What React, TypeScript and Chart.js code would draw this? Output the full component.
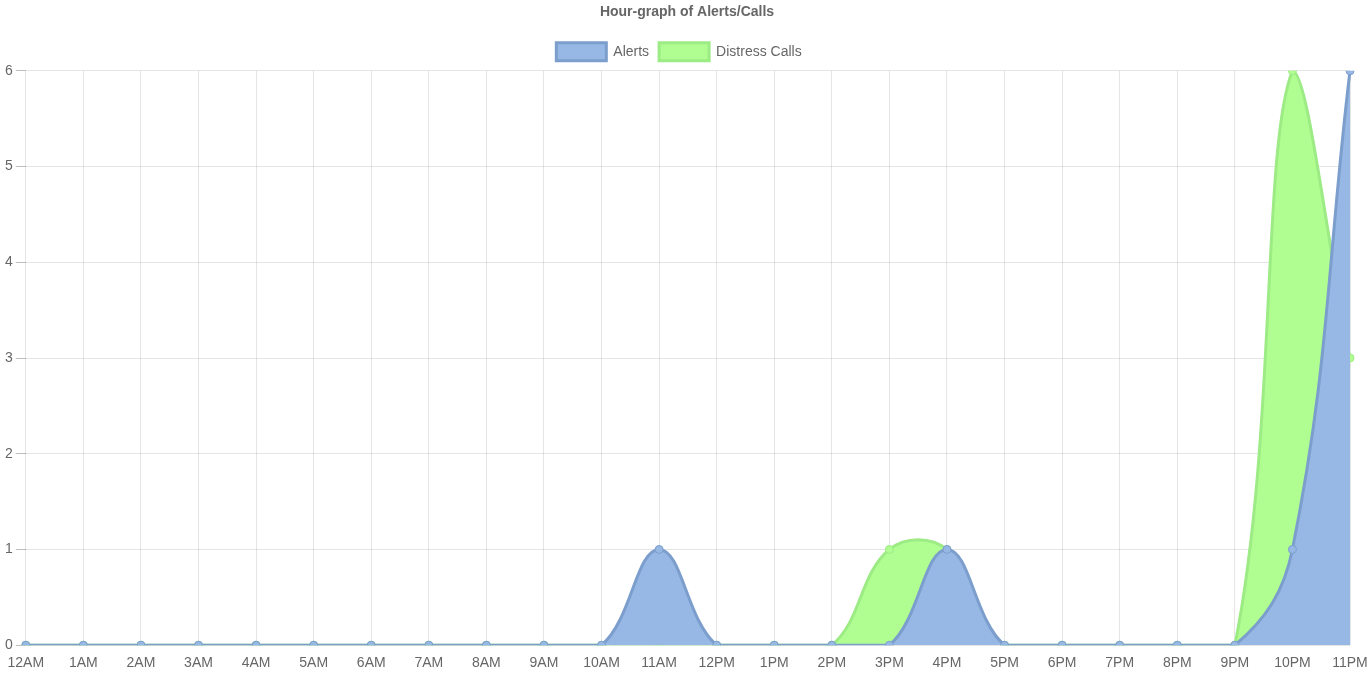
import React, { useEffect, useRef } from "react";
import { Chart, registerables } from "chart.js";

Chart.register(...registerables);

const hours = ["12AM","1AM","2AM","3AM","4AM","5AM","6AM","7AM","8AM","9AM","10AM","11AM","12PM","1PM","2PM","3PM","4PM","5PM","6PM","7PM","8PM","9PM","10PM","11PM"];
const alerts = [0,0,0,0,0,0,0,0,0,0,0,1,0,0,0,0,1,0,0,0,0,0,1,6];
const distressCalls = [0,0,0,0,0,0,0,0,0,0,0,0,0,0,0,1,1,0,0,0,0,0,6,3];

const legendShift = {
  id: "legendShift",
  afterLayout(chart: any) {
    if (chart.legend) {
      chart.legend.left -= 8;
      chart.legend.right -= 8;
    }
  },
};

export default function App() {
  const ref = useRef<HTMLCanvasElement>(null);
  useEffect(() => {
    document.body.style.margin = "0";
    if (!ref.current) return;
    const font = { family: "'Liberation Sans', Arial, sans-serif", size: 14 };
    const chart = new Chart(ref.current, {
      type: "line",
      data: {
        labels: hours,
        datasets: [
          {
            label: "Alerts",
            data: alerts,
            fill: "origin",
            backgroundColor: "#97b8e4",
            borderColor: "#7c9ecd",
            borderWidth: 3,
            pointRadius: 4,
            pointBackgroundColor: "#97b8e4",
            pointBorderColor: "#7c9ecd",
            pointBorderWidth: 1,
            tension: 0.4,
          },
          {
            label: "Distress Calls",
            data: distressCalls,
            fill: "origin",
            backgroundColor: "#b0fe91",
            borderColor: "#9ceb84",
            borderWidth: 3,
            pointRadius: 4,
            pointBackgroundColor: "#b0fe91",
            pointBorderColor: "#9ceb84",
            pointBorderWidth: 1,
            tension: 0.4,
          },
        ],
      },
      plugins: [legendShift],
      options: {
        animation: false,
        responsive: true,
        maintainAspectRatio: false,
        layout: { autoPadding: false, padding: { left: 2, right: 0, top: 3, bottom: -5 } },
        plugins: {
          title: {
            display: true,
            text: "Hour-graph of Alerts/Calls",
            color: "#666",
            font: { ...font, weight: "bold" },
            padding: { top: 1, bottom: 12 },
          },
          legend: {
            labels: {
              color: "#666",
              font,
              boxWidth: 50,
              boxHeight: 18,
              padding: 10,
            },
          },
          tooltip: { enabled: false },
        },
        scales: {
          x: {
            grid: { color: "rgba(0,0,0,0.1)", drawTicks: false },
            border: { display: false },
            ticks: { color: "#666", font, padding: 10, maxRotation: 0, autoSkip: false },
            afterFit: (scale: any) => {
              scale.paddingLeft = 0;
              scale.paddingRight = 22;
            },
          },
          y: {
            min: 0,
            max: 6,
            grid: { color: "rgba(0,0,0,0.1)", drawTicks: true, tickLength: 10, tickColor: "rgba(0,0,0,0.25)" },
            border: { display: false },
            ticks: { color: "#666", font, stepSize: 1, padding: 3 },
          },
        },
      },
    });
    return () => chart.destroy();
  }, []);
  return (
    <div style={{ position: "relative", width: "1372px", height: "677px" }}>
      <canvas ref={ref} />
    </div>
  );
}
